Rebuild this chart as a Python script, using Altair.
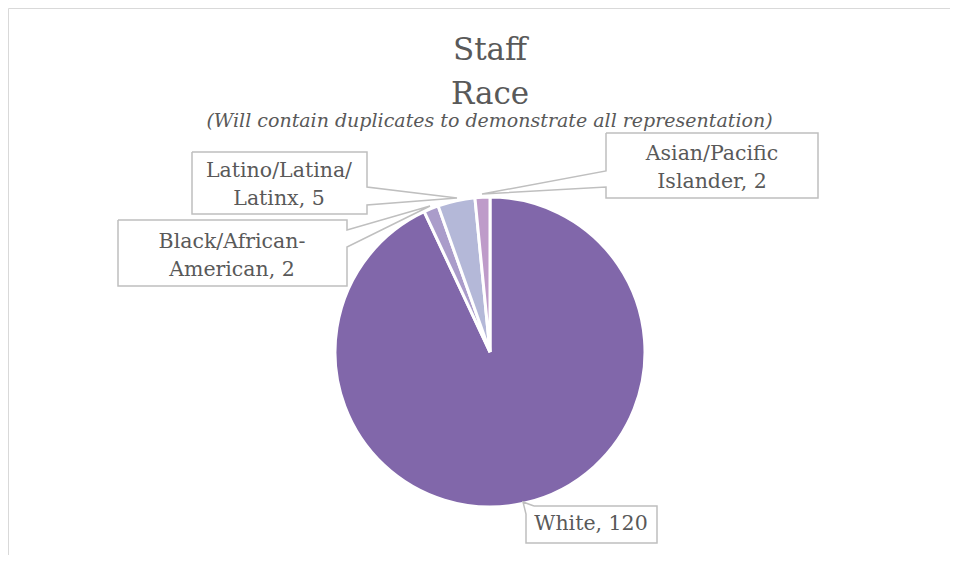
import altair as alt
import pandas as pd

# ---------------- data ----------------
categories = ["White", "Black/African-American", "Latino/Latina/Latinx", "Asian/Pacific Islander"]
counts = [120, 2, 5, 2]
colors = ["#8167AA", "#AA9CCA", "#B4B8D8", "#BE9BC9"]

title_lines = ["Staff", "Race"]
subtitle = "(Will contain duplicates to demonstrate all representation)"

# label text lines (category split over lines, value appended on the last line)
label_lines = [
    ["Latino/Latina/", f"Latinx, {counts[2]}"],
    ["Black/African-", f"American, {counts[1]}"],
    ["Asian/Pacific", f"Islander, {counts[3]}"],
    [f"White, {counts[0]}"],
]
# label anchor (page px): centre x, first baseline y
label_x = [279, 232, 712, 591]
label_y = [177, 248, 160, 530]
line_h = 28

# callout outlines (page px): box with pointer tail
callouts = [
    [(192, 152), (367, 152), (367, 187), (457, 198), (367, 205), (367, 214), (192, 214), (192, 152)],
    [(118, 220), (347, 220), (347, 230), (430, 206), (347, 247), (347, 286), (118, 286), (118, 220)],
    [(606, 133), (818, 133), (818, 198), (606, 198), (606, 187), (482, 194), (606, 171), (606, 133)],
    [(534, 506), (657, 506), (657, 543), (526, 543), (526, 514), (523, 502), (534, 506)],
]
# chart-area frame (page px): only its left and top edges are inside the window
frame = [(8.5, 555), (8.5, 8.5), (958, 8.5)]

# ---------------- layout ----------------
M = 8            # page margin
W, H = 942, 547  # view size
CX, CY, R = 490, 352, 155
FONT = "DejaVu Serif"
TXT = "#595959"

xs = alt.Scale(domain=[M, M + W], range=[0, W])
ys = alt.Scale(domain=[M, M + H], range=[0, H])

pie_df = pd.DataFrame({"cat": categories, "n": counts, "idx": list(range(len(categories)))})

pie = alt.Chart(pie_df).mark_arc(outerRadius=R, stroke="white", strokeWidth=3).encode(
    theta=alt.Theta("n:Q", stack=True),
    order=alt.Order("idx:Q"),
    color=alt.Color("cat:N", scale=alt.Scale(domain=categories, range=colors), legend=None),
    x=alt.value(CX - M),
    y=alt.value(CY - M),
)

rows = []
for ci, pts in enumerate(callouts):
    for pi, (px, py) in enumerate(pts):
        rows.append({"c": ci, "i": pi, "x": px, "y": py})
call_df = pd.DataFrame(rows)

boxes = alt.Chart(call_df).mark_line(color="#bfbfbf", strokeWidth=1.5, strokeJoin="miter").encode(
    x=alt.X("x:Q", scale=xs, axis=None),
    y=alt.Y("y:Q", scale=ys, axis=None),
    detail="c:N",
    order="i:Q",
)

frame_df = pd.DataFrame({"i": list(range(len(frame))), "x": [p[0] for p in frame], "y": [p[1] for p in frame]})
frame_line = alt.Chart(frame_df).mark_line(color="#d9d9d9", strokeWidth=1, clip=True).encode(
    x=alt.X("x:Q", scale=xs, axis=None),
    y=alt.Y("y:Q", scale=ys, axis=None),
    order="i:Q",
)

lrows = []
for k, lines in enumerate(label_lines):
    for j, t in enumerate(lines):
        lrows.append({"t": t, "x": label_x[k], "y": label_y[k] + j * line_h})
lab_df = pd.DataFrame(lrows)

labels = alt.Chart(lab_df).mark_text(
    font=FONT, fontSize=20.5, color=TXT, align="center", baseline="alphabetic"
).encode(
    x=alt.X("x:Q", scale=xs, axis=None),
    y=alt.Y("y:Q", scale=ys, axis=None),
    text="t:N",
)

title_df = pd.DataFrame({"t": title_lines, "y": [60, 104]})
title = alt.Chart(title_df).mark_text(
    font=FONT, fontSize=31, color=TXT, align="center", baseline="alphabetic"
).encode(
    x=alt.value(CX - M),
    y=alt.Y("y:Q", scale=ys, axis=None),
    text="t:N",
)

sub_df = pd.DataFrame({"t": [subtitle], "y": [127]})
sub = alt.Chart(sub_df).mark_text(
    font=FONT, fontSize=19, fontStyle="italic", color=TXT, align="center", baseline="alphabetic"
).encode(
    x=alt.value(CX - M - 0.5),
    y=alt.Y("y:Q", scale=ys, axis=None),
    text="t:N",
)

chart = alt.layer(frame_line, pie, boxes, labels, title, sub).resolve_scale(
    color="independent"
).properties(
    width=W, height=H, padding=0, autosize=alt.AutoSizeParams(type="none")
).configure_view(stroke="transparent", strokeWidth=0)

chart.save("out.html", embed_options={"renderer": "svg", "actions": False})
